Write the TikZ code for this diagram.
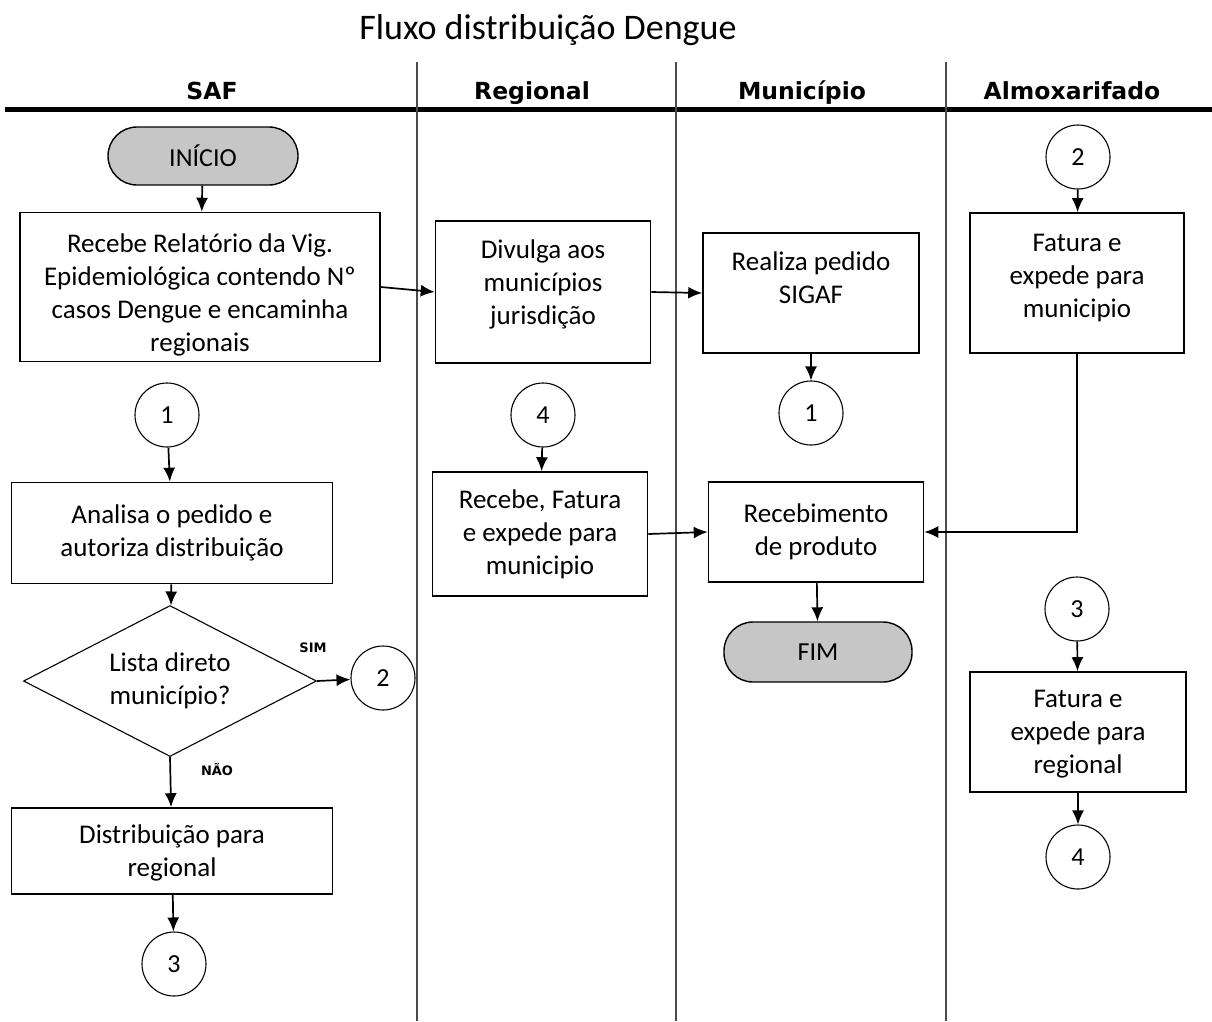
\documentclass[tikz,border=0pt]{standalone}
\usepackage{fontspec}
\setmainfont{Carlito}
\newfontfamily\hdrfont{DejaVu Sans}
\usetikzlibrary{positioning, shapes.geometric, arrows.meta}

\begin{document}
\begin{tikzpicture}[x=1pt, y=-1pt,
    >={Latex[length=14pt, width=12pt]},
    box/.style={draw, line width=1.6pt, align=center, inner sep=0pt, font=\fontsize{27}{33}\selectfont},
    term/.style={draw, line width=1.4pt, fill=gray!45, rounded corners=29pt, font=\fontsize{26}{33}\selectfont},
    conn/.style={draw, circle, line width=1.1pt, minimum size=64pt, inner sep=0pt, font=\fontsize{26}{33}\selectfont},
    dec/.style={draw, diamond, aspect=1.94, line width=1.1pt, inner sep=0pt, align=center, font=\fontsize{27}{33}\selectfont},
    lane/.style={draw=black!70, line width=2pt},
    hdr/.style={anchor=base, font=\hdrfont\bfseries\fontsize{23.5}{28}\selectfont},
    yn/.style={font=\hdrfont\bfseries\fontsize{13}{15}\selectfont},
    flow/.style={->, line width=1.7pt}]

    \useasboundingbox (0,0) rectangle (1212,1021); % same frame as the reference

    % lanes and headers
    \node (title) at (548,30) {\fontsize{36}{40}\selectfont Fluxo distribuição Dengue};
    \draw [line width=5pt] (5,109) -- (1212,109);
    \foreach \x in {417, 676, 946} \draw [lane] (\x,62) -- (\x,1021);
    \node [hdr] (hSAF) at (212,99) {SAF};
    \node [hdr] (hReg) at (532,99) {Regional};
    \node [hdr] (hMun) at (802,99) {Município};
    \node [hdr] (hAlm) at (1072,99) {Almoxarifado};

    % SAF
    \node [term, minimum width=190pt, minimum height=58pt] (inicio) at (203,156) {INÍCIO};
    \node [box, minimum width=360pt, minimum height=149pt,
           label={[align=center, font=\fontsize{27}{33}\selectfont, yshift=-8pt]center:Recebe Relatório da Vig.\\ Epidemiológica contendo Nº\\ casos Dengue e encaminha\\ regionais}]
           (relat) at (200,287) {};
    \node [conn] (c1a) at (167,415) {1};
    \node [box, minimum width=321pt, minimum height=101pt] (analisa) at (172,533)
        {Analisa o pedido e\\ autoriza distribuição};
    \node [dec, minimum width=293pt, minimum height=151pt] (lista) at (170,681)
        {Lista direto\\ município?};
    \node [conn] (c2a) at (383,678) {2};
    \node [box, minimum width=321pt, minimum height=86pt, text depth=0pt] (distrib) at (172,851)
        {Distribuição para\\ regional};
    \node [conn] (c3a) at (174,964) {3};
    \node [yn] (sim) at (313,648) {SIM};
    \node [yn] (nao) at (217,770) {NÃO};

    % Regional
    \node [box, minimum width=215pt, minimum height=142pt, text depth=20pt] (divulga) at (543,292)
        {Divulga aos\\ municípios\\ jurisdição};
    \node [conn] (c4a) at (543,415) {4};
    \node [box, minimum width=215pt, minimum height=124pt] (recebe) at (540,534)
        {Recebe, Fatura\\ e expede para\\ municipio};

    % Municipio
    \node [box, minimum width=216pt, minimum height=120pt, text depth=30pt] (realiza) at (811,293)
        {Realiza pedido\\ SIGAF};
    \node [conn] (c1b) at (811,413) {1};
    \node [box, minimum width=215pt, minimum height=100pt] (receb) at (816,532)
        {Recebimento\\ de produto};
    \node [term, minimum width=188pt, minimum height=60pt] (fim) at (818,652) {FIM};

    % Almoxarifado
    \node [conn] (c2b) at (1078,157) {2};
    \node [box, minimum width=214pt, minimum height=140pt, text depth=14pt] (fatmun) at (1077,283)
        {Fatura e\\ expede para\\ municipio};
    \node [conn] (c3b) at (1077,609) {3};
    \node [box, minimum width=216pt, minimum height=120pt, text depth=0pt] (fatreg) at (1078,732)
        {Fatura e\\ expede para\\ regional};
    \node [conn] (c4b) at (1078,857) {4};

    % connectors
    \draw [flow] (inicio) -- (relat);
    \draw [flow] (relat.east) -- (divulga.west);
    \draw [flow] (divulga.east) -- (realiza.west);
    \draw [flow] (realiza) -- (c1b);
    \draw [flow] (c1a) -- (analisa);
    \draw [flow] (analisa) -- (lista);
    \draw [flow] (lista.east) -- (c2a);
    \draw [flow] (lista.south) -- (distrib);
    \draw [flow] (distrib) -- (c3a);
    \draw [flow] (c4a) -- (recebe);
    \draw [flow] (recebe.east) -- (receb.west);
    \draw [flow] (receb) -- (fim);
    \draw [flow] (c2b) -- (fatmun);
    \draw [flow] (fatmun.south) |- (receb.east);
    \draw [flow] (c3b) -- (fatreg);
    \draw [flow] (fatreg) -- (c4b);

\end{tikzpicture}
\end{document}
